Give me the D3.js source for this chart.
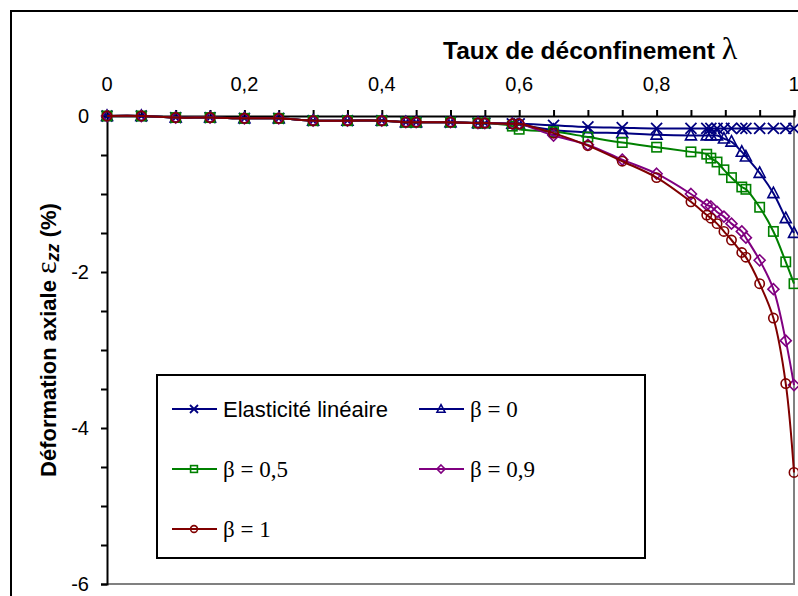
<!DOCTYPE html>
<html><head><meta charset="utf-8">
<script src="https://cdn.jsdelivr.net/npm/d3@7"></script>
<style>body{margin:0;background:#fff}svg{display:block}</style>
</head><body>
<svg id="c" width="798" height="596"></svg>
<script>
const lambda = [0,0.05,0.1,0.15,0.2,0.25,0.3,0.35,0.4,0.435,0.45,0.5,0.54,0.55,0.59,0.6,0.65,0.7,0.75,0.8,0.85,0.873,0.879,0.888,0.898,0.909,0.924,0.93,0.95,0.97,0.988,1.0];
const early = [0,0,-0.02,-0.02,-0.03,-0.03,-0.06,-0.06,-0.06,-0.08,-0.08,-0.08,-0.09,-0.09,-0.1];
const elastique = early.concat([-0.1,-0.12,-0.14,-0.15,-0.16,-0.16,-0.16,-0.16,-0.16,-0.16,-0.16,-0.16,-0.16,-0.16,-0.16,-0.16,-0.16]);
const beta0 = early.concat([-0.11,-0.18,-0.21,-0.22,-0.24,-0.25,-0.25,-0.25,-0.25,-0.29,-0.33,-0.46,-0.52,-0.73,-0.99,-1.31,-1.5]);
const beta05 = early.slice(0,14).concat([-0.13,-0.17,-0.2,-0.27,-0.34,-0.4,-0.46,-0.49,-0.54,-0.59,-0.69,-0.79,-0.91,-0.94,-1.17,-1.48,-1.87,-2.15]);
const beta09 = early.concat([-0.1,-0.25,-0.37,-0.56,-0.74,-1.0,-1.14,-1.16,-1.23,-1.29,-1.38,-1.48,-1.56,-1.85,-2.22,-2.88,-3.45]);
const beta1 = early.concat([-0.1,-0.22,-0.38,-0.58,-0.79,-1.1,-1.27,-1.31,-1.38,-1.48,-1.59,-1.75,-1.81,-2.15,-2.59,-3.43,-4.57]);
const seriesNames = ["Elasticité linéaire","β = 0","β = 0,5","β = 0,9","β = 1"];
const seriesValues = [elastique, beta0, beta05, beta09, beta1];
const colors = ["#000080","#000080","#008000","#800080","#800000"];
const markers = ["x","tri","sq","dia","circ"];
const xTicks = [0,0.2,0.4,0.6,0.8,1];
const xTickLabels = ["0","0,2","0,4","0,6","0,8","1"];
const yTicks = [0,-2,-4,-6];

const svg = d3.select("#c");
const x = d3.scaleLinear().domain([0,1]).range([107,794]);
const y = d3.scaleLinear().domain([0,-6]).range([116,584]);
const SANS = "Liberation Sans, Arial, sans-serif";
const SERIF = "Liberation Serif, Times New Roman, serif";

// outer frame
svg.append("rect").attr("x",11).attr("y",11).attr("width",800).attr("height",600)
  .attr("fill","none").attr("stroke","#000").attr("stroke-width",2);

// plot area border (gray)
svg.append("path").attr("d",`M${x(0)},${y(-6)}H${x(1)}V${y(0)}`)
  .attr("fill","none").attr("stroke","#808080").attr("stroke-width",2);

// x axis on top
const xAxis = d3.axisTop(x).tickValues(d3.range(0,1.0001,0.05)).tickSize(6).tickFormat("");
const gx = svg.append("g").attr("transform",`translate(0,${y(0)})`).call(xAxis);
gx.select(".domain").attr("stroke","#000").attr("stroke-width",2);
gx.selectAll(".tick line").attr("stroke","#000").attr("stroke-width",2);
svg.append("g").selectAll("text").data(xTicks).join("text")
  .attr("x",d=>x(d)).attr("y",91).attr("text-anchor","middle")
  .attr("font-family",SANS).attr("font-size",20)
  .text((d,i)=>xTickLabels[i]);

// y axis
const yAxis = d3.axisLeft(y).tickValues(d3.range(0,-6.0001,-0.5)).tickSize(6).tickFormat("");
const gy = svg.append("g").attr("transform",`translate(${x(0)},0)`).call(yAxis);
gy.select(".domain").attr("stroke","#000").attr("stroke-width",2);
gy.selectAll(".tick line").attr("stroke","#000").attr("stroke-width",2);
svg.append("g").selectAll("text").data(yTicks).join("text")
  .attr("x",89).attr("y",d=>y(d)+7).attr("text-anchor","end")
  .attr("font-family",SANS).attr("font-size",20)
  .text(d=>d===0?"0":"-"+Math.abs(d));

// titles
const tx = svg.append("text").attr("x",443).attr("y",59)
  .attr("font-family",SANS).attr("font-size",24.5).attr("font-weight","bold");
tx.append("tspan").text("Taux de déconfinement ");
tx.append("tspan").attr("font-family",SERIF).attr("font-weight","normal").attr("font-size",32).text("λ");

const ty = svg.append("text").attr("transform","translate(56,340) rotate(-90)").attr("text-anchor","middle")
  .attr("font-family",SANS).attr("font-size",22).attr("font-weight","bold");
ty.append("tspan").text("Déformation axiale ");
ty.append("tspan").attr("font-family",SERIF).attr("font-weight","normal").attr("font-size",30).text("ε");
ty.append("tspan").attr("font-style","italic").attr("font-size",18).attr("dy",3).text("zz");
ty.append("tspan").attr("dy",-3).text(" (%)");

// marker drawing
function drawMarker(g, type, color, s){
  if(type==="x"){
    g.append("path").attr("d",`M${-s},${-s}L${s},${s}M${-s},${s}L${s},${-s}`).attr("stroke",color).attr("stroke-width",1.8).attr("fill","none");
  } else if(type==="tri"){
    g.append("path").attr("d",`M0,${-s*1.1}L${s},${s*0.8}L${-s},${s*0.8}Z`).attr("stroke",color).attr("stroke-width",1.6).attr("fill","none");
  } else if(type==="sq"){
    g.append("rect").attr("x",-s*0.85).attr("y",-s*0.85).attr("width",s*1.7).attr("height",s*1.7).attr("stroke",color).attr("stroke-width",1.6).attr("fill","none");
  } else if(type==="dia"){
    g.append("path").attr("d",`M0,${-s}L${s},0L0,${s}L${-s},0Z`).attr("stroke",color).attr("stroke-width",1.6).attr("fill","none");
  } else {
    g.append("circle").attr("r",s*0.85).attr("stroke",color).attr("stroke-width",1.6).attr("fill","none");
  }
}

const line = d3.line().x(d=>x(d[0])).y(d=>y(d[1])).curve(d3.curveCatmullRom.alpha(0.5));
seriesValues.forEach((vals,i)=>{
  const pts = lambda.map((l,j)=>[l,vals[j]]);
  const g = svg.append("g");
  g.append("path").datum(pts).attr("d",line).attr("fill","none").attr("stroke",colors[i]).attr("stroke-width",2);
  g.selectAll("g.m").data(pts).join("g").attr("class","m")
    .attr("transform",d=>`translate(${x(d[0])},${y(d[1])})`)
    .each(function(){ drawMarker(d3.select(this), markers[i], colors[i], 5.5); });
});

// legend
svg.append("rect").attr("x",157).attr("y",375).attr("width",488).attr("height",183)
  .attr("fill","#fff").attr("stroke","#000").attr("stroke-width",2);
const legPos = [[172,409],[419,409],[172,469],[419,469],[172,529]];
seriesNames.forEach((n,i)=>{
  const [lx,ly] = legPos[i];
  const g = svg.append("g");
  g.append("line").attr("x1",lx).attr("x2",lx+45).attr("y1",ly).attr("y2",ly).attr("stroke",colors[i]).attr("stroke-width",2);
  const m = g.append("g").attr("transform",`translate(${lx+22},${ly})`);
  drawMarker(m, markers[i], colors[i], 4);
  const t = g.append("text").attr("x",lx+51).attr("y",ly+8);
  if(i===0){
    t.attr("font-family",SANS).attr("font-size",22).text(n);
  } else {
    t.attr("font-family",SERIF).attr("font-size",23).text(n);
  }
});
</script>
</body></html>
